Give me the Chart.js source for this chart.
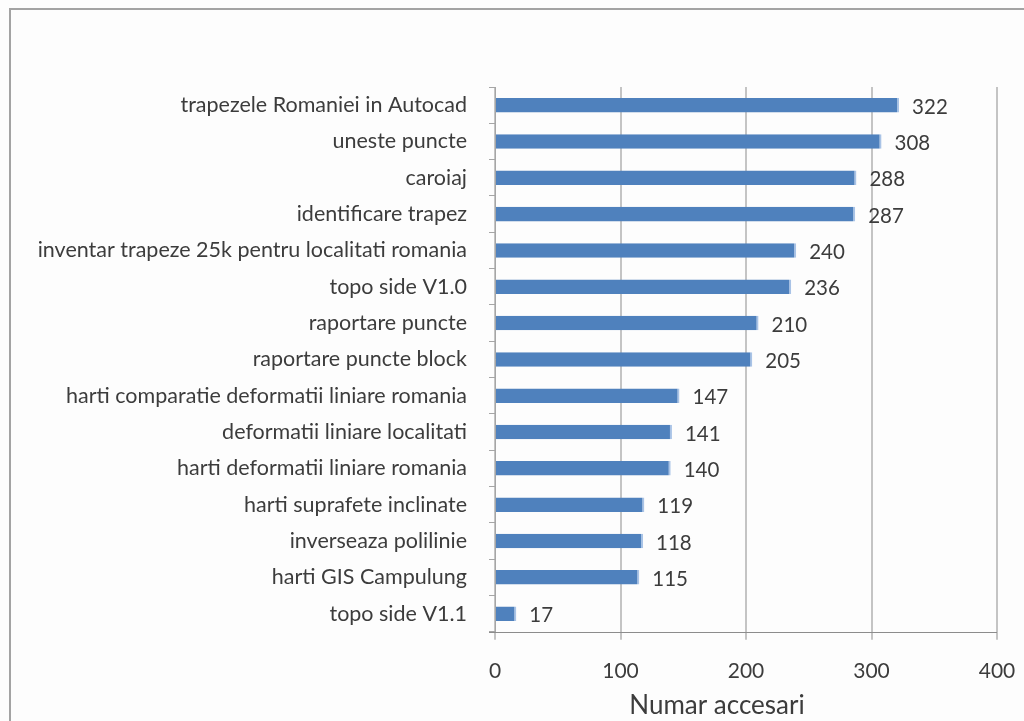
<!DOCTYPE html>
<html>
<head>
<meta charset="utf-8">
<script src="https://cdn.jsdelivr.net/npm/chart.js@4/dist/chart.umd.min.js"></script>
<style>
  html, body { margin: 0; padding: 0; background: #fdfdfd; overflow: hidden; }
  #wrap { position: relative; width: 1024px; height: 721px; }
  #frame {
    position: absolute; left: 9px; top: 8px; width: 1040px; height: 740px;
    border: 2px solid #a3a3a3; box-sizing: border-box;
  }
  canvas { position: absolute; left: 0; top: 0; }
</style>
</head>
<body>
<div id="wrap">
  <div id="frame"></div>
  <canvas id="c" width="1024" height="721"></canvas>
</div>
<script>
const categories = [
  "trapezele Romaniei in Autocad",
  "uneste puncte",
  "caroiaj",
  "identificare trapez",
  "inventar trapeze 25k pentru localitati romania",
  "topo side V1.0",
  "raportare puncte",
  "raportare puncte block",
  "harti comparatie deformatii liniare romania",
  "deformatii liniare localitati",
  "harti deformatii liniare romania",
  "harti suprafete inclinate",
  "inverseaza polilinie",
  "harti GIS Campulung",
  "topo side V1.1"
];
const accessCounts = [322, 308, 288, 287, 240, 236, 210, 205, 147, 141, 140, 119, 118, 115, 17];
const xTickValues = [0, 100, 200, 300, 400];
const xAxisTitle = "Numar accesari";

const FONT = "Lato, 'Open Sans', sans-serif";
const TEXT = "#3c3c3c";

// Writes each bar's value just past its end
const valueLabels = {
  id: "valueLabels",
  afterDatasetsDraw(chart) {
    const ctx = chart.ctx;
    const meta = chart.getDatasetMeta(0);
    ctx.save();
    ctx.font = "20.5px " + FONT;
    ctx.fillStyle = TEXT;
    ctx.textAlign = "left";
    ctx.textBaseline = "middle";
    meta.data.forEach((bar, i) => {
      ctx.fillText(String(chart.data.datasets[0].data[i]), bar.x + 13, bar.y + 2);
    });
    ctx.restore();
  }
};

// Horizontal axis line plus the value-axis title, set a little left of the plot centre
const axisDecor = {
  id: "axisDecor",
  afterDraw(chart) {
    const a = chart.chartArea, ctx = chart.ctx;
    ctx.save();
    ctx.strokeStyle = "#8c8c8c";
    ctx.lineWidth = 1;
    ctx.beginPath();
    ctx.moveTo(a.left - 6, Math.round(a.bottom) + 0.5);
    ctx.lineTo(a.right, Math.round(a.bottom) + 0.5);
    ctx.stroke();

    ctx.font = "26px " + FONT;
    ctx.fillStyle = TEXT;
    ctx.textAlign = "center";
    ctx.textBaseline = "middle";
    const xs = chart.scales.x;
    ctx.fillText(xAxisTitle, (xs.left + xs.right) / 2 - 29, chart.height - 15);
    ctx.restore();
  }
};

new Chart(document.getElementById("c"), {
  type: "bar",
  data: {
    labels: categories,
    datasets: [{
      data: accessCounts,
      backgroundColor: "#4f81bd",
      borderColor: "#a9c3e6",
      borderWidth: { right: 2, top: 0, bottom: 0, left: 0 },
      borderSkipped: false,
      barPercentage: 0.8,
      categoryPercentage: 0.5
    }]
  },
  options: {
    indexAxis: "y",
    responsive: false,
    animation: false,
    layout: { padding: { top: 87, right: 27, bottom: 18, left: 0 } },
    plugins: {
      legend: { display: false },
      tooltip: { enabled: false }
    },
    scales: {
      x: {
        min: 0,
        max: 400,
        afterBuildTicks(scale) {
          scale.ticks = xTickValues.map(v => ({ value: v }));
        },
        // end labels may overhang the plot edges; the layout padding leaves room for them
        afterFit(scale) { scale.paddingLeft = 0; scale.paddingRight = 0; },
        grid: { color: "#c4c4c4", lineWidth: 2, tickLength: 8, drawTicks: true },
        border: { display: false },
        ticks: {
          color: TEXT,
          font: { family: FONT, size: 21 },
          padding: 19,
          maxRotation: 0
        }
      },
      y: {
        afterFit(scale) { scale.width = 495; },
        grid: {
          offset: true,
          drawOnChartArea: false,
          drawTicks: true,
          tickLength: 6,
          color: "#a6a6a6",
          lineWidth: 1
        },
        border: { display: true, color: "#a6a6a6", width: 1 },
        ticks: {
          color: TEXT,
          font: { family: FONT, size: 21.5 },
          padding: 22,
          autoSkip: false
        }
      }
    }
  },
  plugins: [valueLabels, axisDecor]
});
</script>
</body>
</html>
